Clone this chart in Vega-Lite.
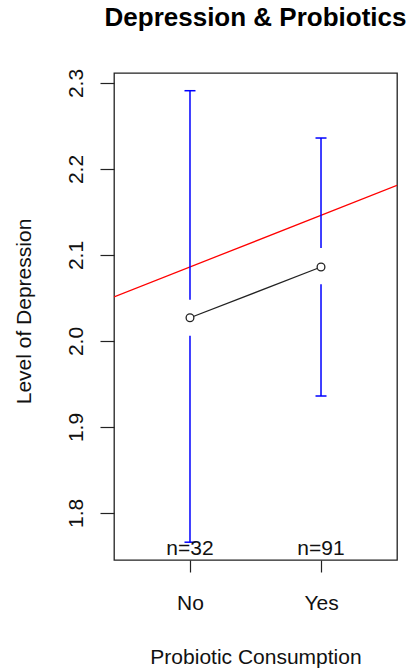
{
  "$schema": "https://vega.github.io/schema/vega-lite/v6.json",
  "width": 283,
  "height": 487,
  "autosize": {"type": "none"},
  "padding": {"left": 114, "top": 73, "right": 15, "bottom": 108},
  "background": "white",
  "config": {"view": {"stroke": "#222", "strokeWidth": 1.3}, "font": "Liberation Sans"},
  "title": {"text": "Depression & Probiotics", "font": "Liberation Sans", "fontSize": 26, "fontWeight": "bold", "color": "#000", "anchor": "middle", "frame": "group", "baseline": "alphabetic", "offset": 16},
  "datasets": {
    "means": [
      {"group": "No", "x": 1, "y": 2.027, "label": "n=32"},
      {"group": "Yes", "x": 2, "y": 2.086, "label": "n=91"}
    ],
    "bars": [
      {"group": "No", "x": 1, "y": 2.048, "y2": 2.291},
      {"group": "No", "x": 1, "y": 1.766, "y2": 2.006},
      {"group": "Yes", "x": 2, "y": 2.108, "y2": 2.236},
      {"group": "Yes", "x": 2, "y": 1.936, "y2": 2.066}
    ],
    "caps": [
      {"x": 1, "y": 2.291},
      {"x": 1, "y": 1.766},
      {"x": 2, "y": 2.236},
      {"x": 2, "y": 1.936}
    ],
    "fit": [
      {"x": 0.42, "y": 2.0512},
      {"x": 2.58, "y": 2.181}
    ]
  },
  "encoding": {
    "x": {
      "field": "x", "type": "quantitative",
      "scale": {"domain": [0.42, 2.58], "nice": false, "zero": false},
      "axis": {
        "values": [1, 2], "labelExpr": "datum.value == 1 ? 'No' : 'Yes'",
        "title": "Probiotic Consumption", "grid": false, "domain": false,
        "tickSize": 12, "tickColor": "#222", "tickWidth": 1.2,
        "labelFontSize": 21, "labelPadding": 37, "labelBaseline": "alphabetic", "labelColor": "#111", "labelFlush": false,
        "titleFontSize": 21, "titleFontWeight": "normal", "titleY": 103, "titleBaseline": "alphabetic", "titleColor": "#111"
      }
    },
    "y": {
      "field": "y", "type": "quantitative",
      "scale": {"domain": [1.7453, 2.3116], "nice": false, "zero": false},
      "axis": {
        "values": [1.8, 1.9, 2.0, 2.1, 2.2, 2.3], "format": ".1f",
        "title": "Level of Depression", "grid": false, "domain": false,
        "tickSize": 14, "tickColor": "#222", "tickWidth": 1.2,
        "labelAngle": -90, "labelAlign": "center", "labelBaseline": "alphabetic", "labelPadding": 18,
        "labelFontSize": 21, "labelColor": "#111", "labelFlush": false, "labelOverlap": false,
        "titleFontSize": 21, "titleFontWeight": "normal", "titleAngle": -90, "titleX": -84, "titleY": 238,
        "titleAlign": "center", "titleBaseline": "alphabetic", "titleColor": "#111"
      }
    }
  },
  "layer": [
    {"data": {"name": "fit"}, "mark": {"type": "line", "color": "#FF0000", "strokeWidth": 1.3, "clip": true}},
    {"data": {"name": "bars"}, "mark": {"type": "rule", "color": "#0000FF", "strokeWidth": 1.5}, "encoding": {"y2": {"field": "y2"}}},
    {"data": {"name": "caps"}, "mark": {"type": "rule", "color": "#0000FF", "strokeWidth": 1.5, "xOffset": -5.5, "x2Offset": 5.5}, "encoding": {"x2": {"field": "x"}}},
    {"data": {"name": "means"}, "mark": {"type": "line", "color": "#222", "strokeWidth": 1.3}},
    {"data": {"name": "means"}, "mark": {"type": "point", "shape": "circle", "filled": true, "fill": "white", "stroke": "#222", "strokeWidth": 1.3, "size": 60, "opacity": 1}},
    {"data": {"name": "means"}, "mark": {"type": "text", "fontSize": 21, "baseline": "alphabetic", "dy": -5, "color": "#111"}, "encoding": {"y": {"datum": 1.7453}, "text": {"field": "label"}}}
  ]
}
